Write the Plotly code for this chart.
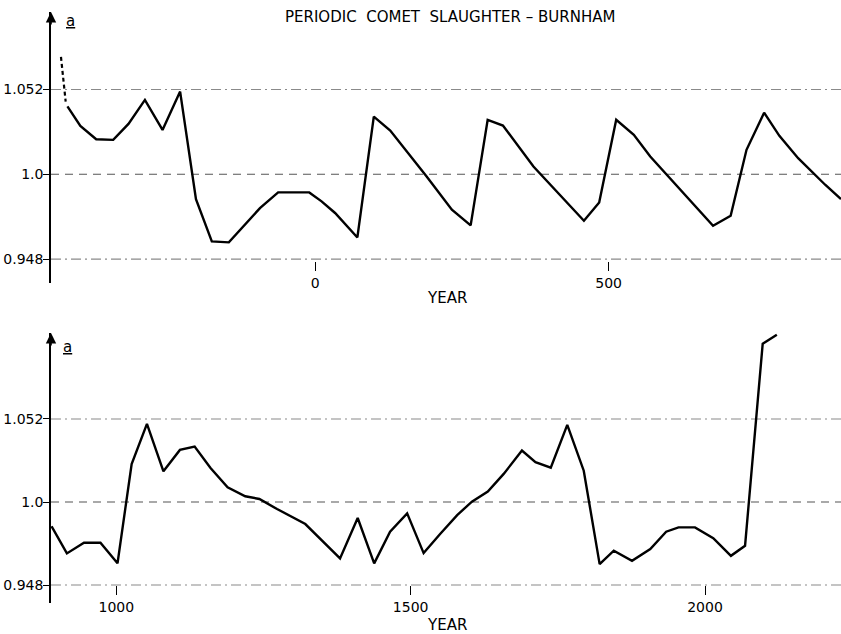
import plotly.graph_objects as go

# ---- data ----
top_years = [-422, -400, -373, -344, -318, -290, -260, -230, -203, -176,
             -147, -94, -63, -10, 11, 34, 72, 100, 128, 159,
             190, 233, 265, 294, 320, 372, 458, 484, 513, 543,
             571, 678, 708, 735, 765, 791, 823, 869, 896]
top_a = [1.0416, 1.0297, 1.0215, 1.0211, 1.0309, 1.0456, 1.0272, 1.0507, 0.9848, 0.9589,
         0.9583, 0.9793, 0.9889, 0.9889, 0.9834, 0.9763, 0.9613, 1.0354, 1.0268, 1.013,
         0.9987, 0.9783, 0.9687, 1.0334, 1.0299, 1.0048, 0.9715, 0.9827, 1.0334, 1.0242,
         1.0109, 0.9685, 0.9746, 1.015, 1.0378, 1.0236, 1.0099, 0.9936, 0.9848]

top_dash_years = [-433, -425]
top_dash_a = [1.072, 1.0446]

bot_years = [890, 916, 945, 973, 1002, 1026, 1052, 1080, 1108, 1133,
             1160, 1189, 1219, 1243, 1273, 1321, 1380, 1410, 1438, 1465,
             1494, 1522, 1550, 1579, 1604, 1631, 1658, 1689, 1712, 1738,
             1766, 1794, 1821, 1845, 1876, 1907, 1934, 1955, 1983, 2014,
             2044, 2068, 2098, 2122]
bot_a = [0.9848, 0.9678, 0.9745, 0.9745, 0.9616, 1.0238, 1.0489, 1.0192, 1.0326, 1.0347,
         1.0213, 1.0092, 1.0036, 1.0019, 0.9956, 0.9862, 0.9647, 0.99, 0.9616, 0.9814,
         0.9929, 0.968, 0.98, 0.9918, 1.0002, 1.0065, 1.0176, 1.0322, 1.0249, 1.0215,
         1.0483, 1.0196, 0.9611, 0.9695, 0.9632, 0.9705, 0.9814, 0.9841, 0.9841, 0.9774,
         0.9663, 0.9726, 1.0991, 1.1047]

y_ticks = [0.948, 1.0, 1.052]
y_tick_labels = ["0.948", "1.0", "1.052"]
top_x_ticks = [0, 500]
bot_x_ticks = [1000, 1500, 2000]

title_text = "PERIODIC  COMET  SLAUGHTER – BURNHAM"

# ---- figure ----
W, H = 841, 634
FONT = "DejaVu Sans"

def px_x(p):
    return p / W

def px_y(p):
    return 1 - p / H

fig = go.Figure()
line_style = dict(color="black", width=2.4)

fig.add_trace(go.Scatter(x=top_years, y=top_a, mode="lines", line=line_style,
                         xaxis="x", yaxis="y", showlegend=False))
fig.add_trace(go.Scatter(x=top_dash_years, y=top_dash_a, mode="lines",
                         line=dict(color="black", width=2.2, dash="4px,3px"),
                         xaxis="x", yaxis="y", showlegend=False))
fig.add_trace(go.Scatter(x=bot_years, y=bot_a, mode="lines", line=line_style,
                         xaxis="x2", yaxis="y2", showlegend=False))

xdom = [px_x(51), 1.0]
common_y = dict(tickvals=y_ticks, ticktext=y_tick_labels, showline=True,
                linecolor="black", linewidth=1.6, ticks="outside", ticklen=6,
                tickwidth=1.3, tickcolor="black", showgrid=False, zeroline=False,
                automargin=False, ticklabelstandoff=-3,
                tickfont=dict(family=FONT, size=14, color="black"))
common_x = dict(showline=False, showgrid=False, zeroline=False, ticks="outside",
                ticklen=9, tickwidth=1.3, tickcolor="black", anchor="free",
                automargin=False,
                tickfont=dict(family=FONT, size=14, color="black"))

fig.update_layout(
    width=W, height=H,
    margin=dict(l=0, r=0, t=0, b=0, autoexpand=False),
    paper_bgcolor="white", plot_bgcolor="white",
    font=dict(family=FONT, color="black"),
    hovermode=False,
    xaxis=dict(domain=xdom, range=[-450, 896], tickvals=top_x_ticks,
               position=px_y(261), **common_x),
    yaxis=dict(domain=[px_y(283), px_y(12)], range=[0.93337, 1.0995],
               anchor="x", **common_y),
    xaxis2=dict(domain=xdom, range=[889, 2231], tickvals=bot_x_ticks,
                position=px_y(585), **common_x),
    yaxis2=dict(domain=[px_y(603), px_y(333)], range=[0.93677, 1.1058],
                anchor="x2", **common_y),
)

# reference lines
for xr, yr in (("x domain", "y"), ("x2 domain", "y2")):
    for v in y_ticks:
        if v == 1.0:
            st = dict(color="#555555", width=1.1, dash="8px,6px")
        else:
            st = dict(color="#8a8a8a", width=1.1, dash="10px,4px,2px,4px")
        fig.add_shape(type="line", xref=xr, yref=yr, x0=0, x1=1, y0=v, y1=v,
                      line=st, layer="below")

# arrows at top of y axes
for ytop in (12, 333):
    fig.add_annotation(x=px_x(51), y=px_y(ytop), xref="paper", yref="paper",
                       ax=0, ay=14, showarrow=True, arrowhead=2, arrowsize=1.3,
                       arrowwidth=1.6, arrowcolor="black", text="")

# 'a' labels
for (xa, ya) in ((70, 21), (67, 347)):
    fig.add_annotation(x=px_x(xa), y=px_y(ya), xref="paper", yref="paper",
                       xanchor="center", yanchor="middle",
                       text="<u>a</u>", showarrow=False,
                       font=dict(family=FONT, size=15, color="black"))

# axis titles
for ya in (298, 625):
    fig.add_annotation(x=px_x(447), y=px_y(ya), xref="paper", yref="paper",
                       xanchor="center", yanchor="middle",
                       text="YEAR", showarrow=False,
                       font=dict(family=FONT, size=15, color="black"))

# title
fig.add_annotation(x=px_x(450), y=px_y(17), xref="paper", yref="paper",
                   xanchor="center", yanchor="middle",
                   text=title_text, showarrow=False,
                   font=dict(family=FONT, size=15, color="black"))

fig.write_html("out.html", config={"displayModeBar": False},
               post_script="document.body.style.margin='0';document.body.style.padding='0';")
